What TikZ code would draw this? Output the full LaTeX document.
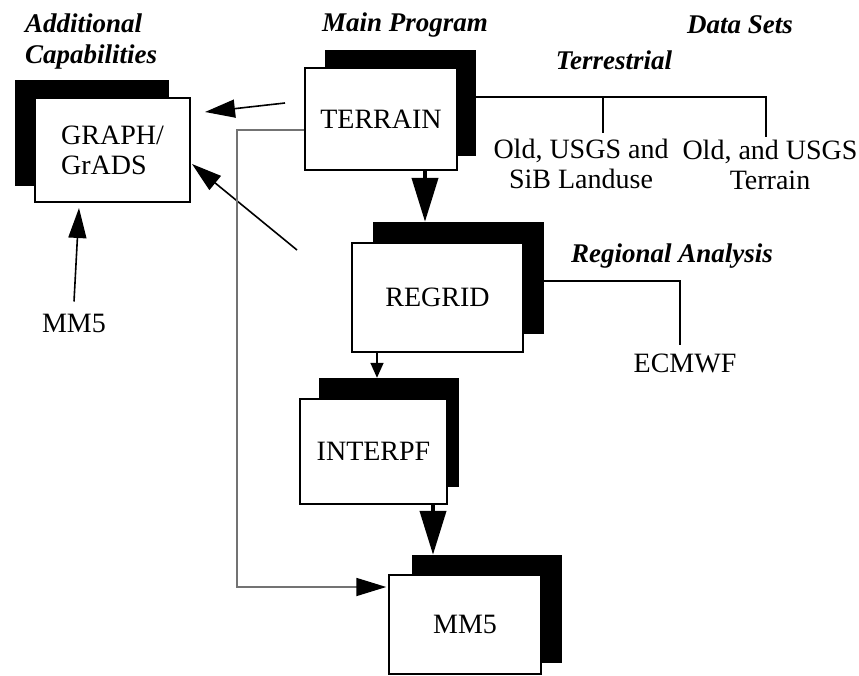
\documentclass[tikz,border=0pt]{standalone}
\usepackage{fontspec}
\setmainfont{Liberation Serif}
\usetikzlibrary{arrows.meta}
\begin{document}
\begin{tikzpicture}[x=1pt,y=-1pt,
  box/.style={draw, fill=white, line width=1.5pt, inner sep=0pt,
    font=\fontsize{28}{30}\selectfont, align=left},
  shade/.style={fill=black, draw=black, inner sep=0pt},
  lbl/.style={font=\fontsize{28}{30}\selectfont, inner sep=0pt, align=center},
  hdr/.style={font=\fontsize{27}{31}\selectfont\bfseries\itshape, inner sep=0pt, align=left},
  thinline/.style={line width=1.3pt},
  grayline/.style={line width=1.8pt, draw=black!55},
  arr/.style={line width=1.6pt, -{Triangle[length=30pt,width=18pt]}},
  smallarr/.style={line width=1.6pt, -{Triangle[length=15pt,width=13pt]}},
  bigarr/.style={line width=4pt, -{Triangle[length=44pt,width=26pt]}}
]
\useasboundingbox (0,0) rectangle (859,676);

% shadows
\node[shade, minimum width=153pt, minimum height=105pt] (graphS)   at (91.5,132.5) {};
\node[shade, minimum width=150pt, minimum height=105pt] (terrainS) at (400,102.5) {};
\node[shade, minimum width=170pt, minimum height=111pt] (regridS)  at (458,277.5) {};
\node[shade, minimum width=139pt, minimum height=108pt] (interpfS) at (388.5,432) {};
\node[shade, minimum width=149pt, minimum height=107pt] (mmS)      at (486.5,608.5) {};

% boxes
\node[box, minimum width=155pt, minimum height=104pt] (graph)   at (112.5,150) {GRAPH/\\GrADS};
\node[box, minimum width=152pt, minimum height=102pt] (terrain) at (381,119) {TERRAIN};
\node[box, minimum width=171pt, minimum height=109pt] (regrid)  at (437.5,297.5) {REGRID};
\node[box, minimum width=147pt, minimum height=105pt] (interpf) at (373.5,451.5) {INTERPF};
\node[box, minimum width=152pt, minimum height=99pt]  (mm)      at (465,624.5) {MM5};

% headings
\node[hdr, anchor=west] (addcap) at (25,41.5) {Additional\\Capabilities};
\node[hdr, anchor=base] (mainprog) at (405,32) {Main Program};
\node[hdr, anchor=base] (datasets) at (740,34) {Data Sets};
\node[hdr, anchor=base] (terr) at (614,70) {Terrestrial};
\node[hdr, anchor=base] (regan) at (672,262) {Regional Analysis};

% plain labels
\node[lbl] (ds1) at (581,164) {Old, USGS and\\SiB Landuse};
\node[lbl] (ds2) at (770,165) {Old, and USGS\\Terrain};
\node[lbl] (ecmwf) at (685,363) {ECMWF};
\node[lbl] (mmleft) at (74,323) {MM5};

% free ends
\coordinate (a1) at (285,103);
\coordinate (a1t) at (205,112);
\coordinate (a2) at (297,250);
\coordinate (a2t) at (192,164);
\coordinate (a3t) at (79,208);
\coordinate (j1) at (603,97);
\coordinate (j1e) at (603,133);
\coordinate (j2e) at (766,137);

% arrows to GRAPH
\draw[arr] (a1) -- (a1t);
\draw[arr] (a2) -- (a2t);
\draw[arr] ([yshift=12pt]mmleft.north) -- (a3t);

% main flow
\draw[bigarr] ([xshift=44pt]terrain.south) -- ([xshift=-33pt]regridS.north);
\draw[smallarr] ([xshift=-60.5pt]regrid.south) -- ([xshift=-11.5pt]interpfS.north);
\draw[bigarr] ([xshift=59.5pt]interpf.south) -- ([xshift=-53.5pt]mmS.north);

% gray bypass line
\draw[grayline, -{Triangle[length=30pt,width=18pt,black]}]
  ([yshift=-11pt]terrain.west) -- ++(-67,0) |- ([yshift=37.5pt,xshift=-2pt]mm.west);

% data set lines
\draw[thinline] ([yshift=5.5pt]terrainS.east) -| (j2e);
\draw[thinline] (j1) -- (j1e);
\draw[thinline] ([yshift=-3.5pt]regridS.east) -| ([xshift=-5pt,yshift=8.5pt]ecmwf.north);
\end{tikzpicture}
\end{document}
